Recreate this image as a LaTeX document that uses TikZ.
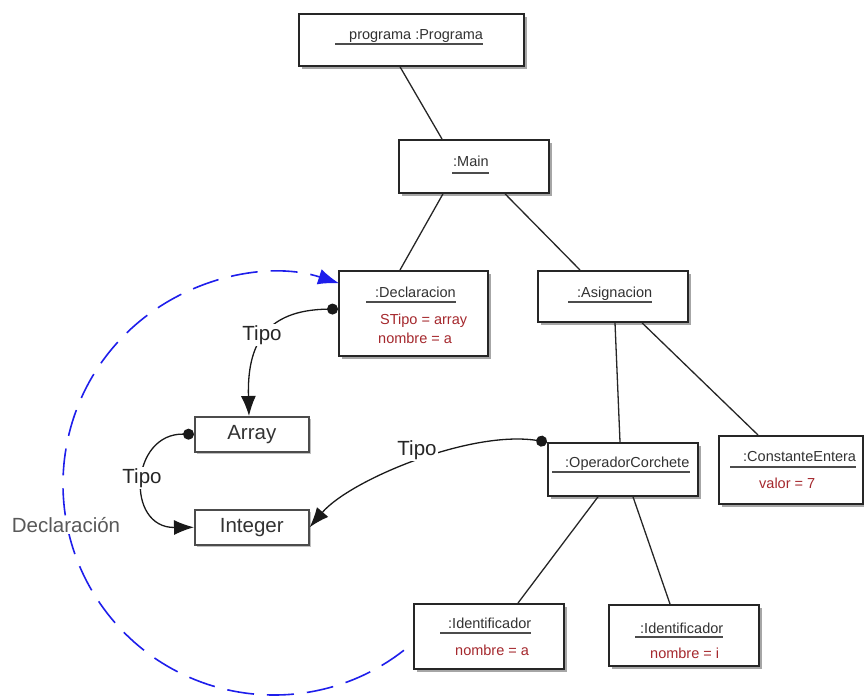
\documentclass[tikz,border=0pt]{standalone}
\usepackage{fontspec}
\setmainfont{Liberation Sans}
\usetikzlibrary{shadows,arrows.meta,calc}
\definecolor{attr}{RGB}{165,40,45}
\definecolor{ttl}{RGB}{50,50,50}
\definecolor{circ}{RGB}{30,30,235}
\begin{document}
\begin{tikzpicture}[x=1pt,y=1pt,
  obj/.style={draw=black!85,line width=1.8pt,fill=white,inner sep=0pt,anchor=north west,
    drop shadow={shadow xshift=3pt,shadow yshift=-3pt,opacity=0.35,fill=black}},
  typ/.style={draw=black!70,line width=1.6pt,fill=white,inner sep=0pt,anchor=north west,
    text=black!80,font=\fontsize{20.5}{24}\selectfont,minimum width=114pt,minimum height=35pt,
    drop shadow={shadow xshift=2pt,shadow yshift=-2pt,opacity=0.25,fill=black}},
  ttlt/.style={inner sep=0pt,anchor=base west,text=ttl,font=\fontsize{14.5}{17}\selectfont},
  att/.style={inner sep=0pt,anchor=base west,text=attr,font=\fontsize{14.5}{17}\selectfont},
  ul/.style={draw=black!70,line width=2pt},
  conn/.style={draw=black!85,line width=1.3pt},
  tipo/.style={draw=black!90,line width=1.3pt,{Circle[length=11pt]}-{Latex[length=20pt,width=15pt]}},
  lbl/.style={fill=white,inner sep=1pt,text=black!85,font=\fontsize{20.5}{24}\selectfont},
  circarc/.style={draw=circ,line width=1.6pt,dash pattern=on 27pt off 13pt,-{Latex[length=21pt,width=16pt]}}
]
\useasboundingbox (0,0) rectangle (864,-698);

% object boxes
\node[obj,minimum width=225pt,minimum height=52pt] (prog) at (298,-13) {};
\node[obj,minimum width=150pt,minimum height=53pt] (main) at (398,-139) {};
\node[obj,minimum width=149pt,minimum height=85pt] (dec)  at (338,-270) {};
\node[obj,minimum width=150pt,minimum height=51pt] (asig) at (537,-270) {};
\node[obj,minimum width=150pt,minimum height=53pt] (opc)  at (547,-442) {};
\node[obj,minimum width=144pt,minimum height=68pt] (cons) at (718,-435) {};
\node[obj,minimum width=150pt,minimum height=65pt] (id1)  at (413,-603) {};
\node[obj,minimum width=150pt,minimum height=61pt] (id2)  at (608,-604) {};
\node[typ] (arr) at (194,-416) {Array};
\node[typ] (int) at (194,-509) {Integer};

% titles and attributes
\node[ttlt] (progT) at (349,-40) {programa :Programa};
\draw[ul] ([xshift=-14pt,yshift=-4pt]progT.base west) -- ([yshift=-4pt]progT.base east);
\node[ttlt] (mainT) at (453,-166) {:Main};
\draw[ul] ([xshift=-1pt,yshift=-7pt]mainT.base west) -- ([yshift=-7pt]mainT.base east);
\node[ttlt] (decT) at (375,-297) {:Declaracion};
\draw[ul] ([xshift=-9pt,yshift=-5pt]decT.base west) -- ([yshift=-5pt]decT.base east);
\node[att] (decA1) at (380,-324) {STipo = array};
\node[att] (decA2) at (378,-343) {nombre = a};
\node[ttlt] (asigT) at (577,-297) {:Asignacion};
\draw[ul] ([xshift=-9pt,yshift=-5pt]asigT.base west) -- ([yshift=-5pt]asigT.base east);
\node[ttlt] (opcT) at (565,-467) {:OperadorCorchete};
\draw[ul] ([xshift=-13pt,yshift=-5pt]opcT.base west) -- ([yshift=-5pt]opcT.base east);
\node[ttlt] (consT) at (743,-461) {:ConstanteEntera};
\draw[ul] ([xshift=-13pt,yshift=-6pt]consT.base west) -- ([yshift=-6pt]consT.base east);
\node[att] (consA) at (759,-488) {valor = 7};
\node[ttlt] (id1T) at (448,-628) {:Identificador};
\draw[ul] ([xshift=-8pt,yshift=-5pt]id1T.base west) -- ([yshift=-5pt]id1T.base east);
\node[att] (id1A) at (455,-655) {nombre = a};
\node[ttlt] (id2T) at (640,-633) {:Identificador};
\draw[ul] ([xshift=-5pt,yshift=-4pt]id2T.base west) -- ([yshift=-4pt]id2T.base east);
\node[att] (id2A) at (650,-658) {nombre = i};

% tree connectors
\draw[conn] ([xshift=102pt]prog.south west) -- ([xshift=44pt]main.north west);
\draw[conn] ([xshift=45pt]main.south west) -- ([xshift=62pt]dec.north west);
\draw[conn] ([xshift=107pt]main.south west) -- ([xshift=43pt]asig.north west);
\draw[conn] ([xshift=78pt]asig.south west) -- ([xshift=73pt]opc.north west);
\draw[conn] ([xshift=105pt]asig.south west) -- ([xshift=40pt]cons.north west);
\draw[conn] ([xshift=51pt]opc.south west) -- ([xshift=105pt]id1.north west);
\draw[conn] ([xshift=86pt]opc.south west) -- ([xshift=62pt]id2.north west);

% Tipo references
\draw[tipo] ([yshift=-39pt]dec.north west) .. controls (265,-310) and (247,-345) .. ([xshift=55pt]arr.north west);
\draw[tipo] (arr.west) .. controls (130,-433) and (125,-528) .. (int.west);
\draw[tipo] (opc.north west) .. controls (470,-430) and (350,-480) .. (int.east);
\node[lbl] (tipo1) at (262,-335) {Tipo};
\node[lbl] (tipo2) at (142,-478) {Tipo};
\node[lbl] (tipo3) at (417,-450) {Tipo};

% Declaracion scope circle
\coordinate (cc) at (274,-484);
\draw[circarc] ($(cc)+(-52:211)$) arc[start angle=-52,end angle=-288,radius=211];
\node[lbl,text=black!65] (decl) at (66,-525) {Declaración};
\end{tikzpicture}
\end{document}
